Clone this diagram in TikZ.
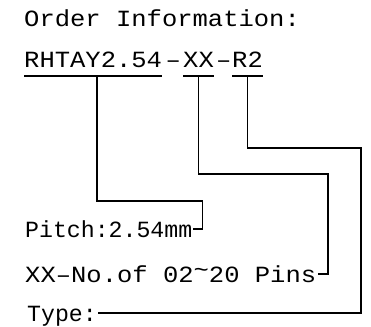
\documentclass[tikz,border=0pt]{standalone}
\usepackage{fontspec}
\usepackage{tikz}
\newfontfamily\cadfont[FakeStretch=1.1]{Liberation Mono}
\newfontfamily\cadnarrow{Liberation Mono}

\begin{document}
\begin{tikzpicture}[x=1pt,y=-1pt,
    lbl/.style={anchor=base west,inner sep=0pt,font=\cadfont\fontsize{23.2}{28}\selectfont},
    lbln/.style={lbl,font=\cadnarrow\fontsize{23.2}{28}\selectfont},
    wire/.style={line width=1.8pt}]
    \useasboundingbox (0,0) rectangle (371,326);
    % draw title and part number
    \node[lbl] (title) at (24,27) {Order Information:};
    \node[lbl] (pnA) at (24,68) {RHTAY2.54};
    \node[lbl] (dashA) at (165.5,68) {\textendash};
    \node[lbl] (pnB) at (183,68) {XX};
    \node[lbl] (dashB) at (216,68) {\textendash};
    \node[lbl] (pnC) at (232,68) {R2};
    % draw descriptions
    \node[lbln] (pitch) at (25,237) {Pitch:2.54mm};
    \node[lbl] (pins) at (25,282) {XX\textendash No.of 02\raisebox{5pt}{\textasciitilde}20 Pins};
    \node[lbln] (type) at (27,321) {Type:};
    % draw underlines
    \foreach \n in {pnA,pnB,pnC}
      \draw[wire] ([yshift=-8pt]\n.base west) -- ([yshift=-8pt]\n.base east);
    % draw leader lines
    \coordinate (uA) at ([xshift=4pt,yshift=-8pt]pnA.base);
    \coordinate (uB) at ([yshift=-8pt]pnB.base);
    \coordinate (uC) at ([yshift=-8pt]pnC.base);
    \coordinate (tA) at ([xshift=1pt,yshift=8pt]pitch.base east);
    \coordinate (tB) at ([xshift=2pt,yshift=8pt]pins.base east);
    \coordinate (tC) at ([xshift=1pt,yshift=8pt]type.base east);
    \coordinate (kA) at ([xshift=9pt]tA);
    \coordinate (kB) at ([xshift=10pt]tB);
    \coordinate (kC) at (tC -| 361,0);
    \draw[wire] (uA) -- (uA |- 0,201) -| (kA) -- (tA);
    \draw[wire] (uB) -- (uB |- 0,174) -| (kB) -- (tB);
    \draw[wire] (uC) -- (uC |- 0,148) -| (kC) -- (tC);
\end{tikzpicture}
\end{document}
